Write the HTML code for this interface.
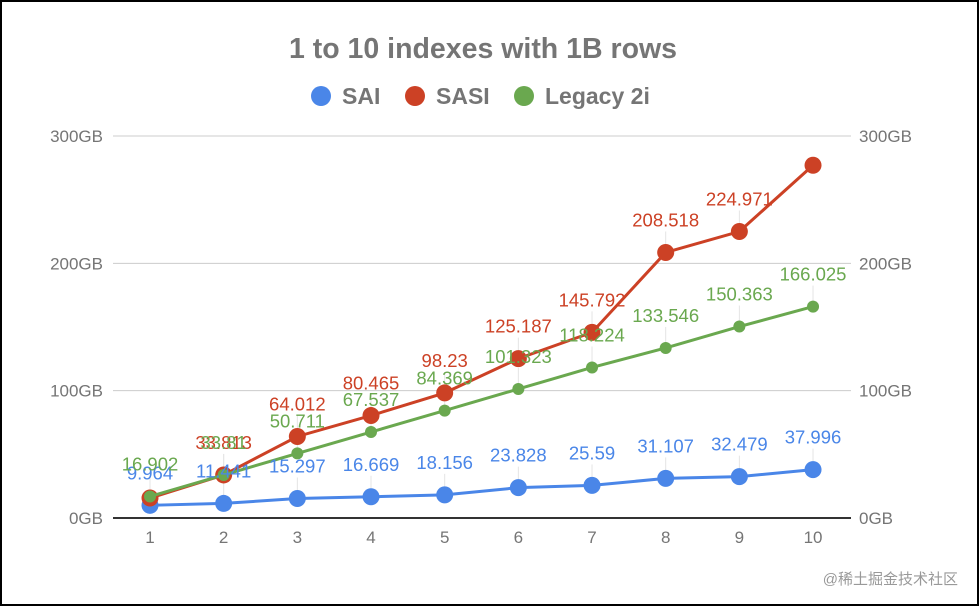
<!DOCTYPE html>
<html><head><meta charset="utf-8"><style>
html,body{margin:0;padding:0;background:#fff}
body{width:979px;height:606px;overflow:hidden;position:relative;font-family:"Liberation Sans",sans-serif}
#frame{position:absolute;left:0;top:0;width:975px;height:602px;border:2px solid #000}
</style></head><body>
<div id="frame"></div>
<svg id="chart" width="979" height="606" style="position:absolute;left:0;top:0">
<text x="483" y="58" text-anchor="middle" font-size="28.5" font-weight="bold" fill="#757575">1 to 10 indexes with 1B rows</text>
<g>
<g><circle cx="321" cy="96" r="10" fill="#4a86e8"/><text x="342" y="104" font-size="23" font-weight="bold" fill="#757575">SAI</text></g>
<g><circle cx="415" cy="96" r="10" fill="#cc4125"/><text x="436" y="104" font-size="23" font-weight="bold" fill="#757575">SASI</text></g>
<g><circle cx="524" cy="96" r="10" fill="#6aa84f"/><text x="545" y="104" font-size="23" font-weight="bold" fill="#757575">Legacy 2i</text></g>
</g>
<g id="grid"></g><g id="leaders"></g><g id="series"></g><g id="labels"></g>
<text x="958" y="584" text-anchor="end" font-size="15" fill="#999" font-family="'Liberation Sans','Noto Sans CJK SC',sans-serif">@稀土掘金技术社区</text>
</svg>
<script>
const categories=[1,2,3,4,5,6,7,8,9,10];
const sai=[9.964,11.441,15.297,16.669,18.156,23.828,25.59,31.107,32.479,37.996];
const sasi=[15.7,33.813,64.012,80.465,98.23,125.187,145.792,208.518,224.971,277];
const legacy=[16.902,33.81,50.711,67.537,84.369,101.323,118.224,133.546,150.363,166.025];
const sasiLabels=["","33.813","64.012","80.465","98.23","125.187","145.792","208.518","224.971",""];
const saiLabels=["9.964","11.441","15.297","16.669","18.156","23.828","25.59","31.107","32.479","37.996"];
const legacyLabels=["16.902","33.81","50.711","67.537","84.369","101.323","118.224","133.546","150.363","166.025"];
const yTicks=[0,100,200,300];
const yTickLabels=["0GB","100GB","200GB","300GB"];
const NS="http://www.w3.org/2000/svg";
const x0=150,dx=73.67,yBase=518,pxPer=(518-136)/300;
const X=i=>x0+i*dx, Y=v=>yBase-v*pxPer;
function mk(tag,attrs,parent){const e=document.createElementNS(NS,tag);for(const k in attrs)e.setAttribute(k,attrs[k]);parent.appendChild(e);return e;}
const grid=document.getElementById('grid'),ser=document.getElementById('series'),lab=document.getElementById('labels'),lead=document.getElementById('leaders');
yTicks.forEach((t,i)=>{
 const l=mk('line',{x1:113,x2:851,y1:Y(t),y2:Y(t),stroke:t===0?'#333':'#ccc','stroke-width':t===0?2:1},grid);
 
 
 const a=mk('text',{x:103,y:Y(t)+6,'text-anchor':'end','font-size':17,fill:'#757575'},grid);a.textContent=yTickLabels[i];
 
 
 const b=mk('text',{x:859,y:Y(t)+6,'font-size':17,fill:'#757575'},grid);b.textContent=yTickLabels[i];
 
 
});
categories.forEach((c,i)=>{
 const t=mk('text',{x:X(i),y:543,'text-anchor':'middle','font-size':17,fill:'#757575'},grid);t.textContent=c;
 
 
});
function series(vals,labels,color,r,name){
 const g=mk('g',{},ser);
 
 
 mk('polyline',{points:vals.map((v,i)=>X(i)+','+Y(v)).join(' '),fill:'none',stroke:color,'stroke-width':3},g);
 vals.forEach((v,i)=>{
  const c=mk('circle',{cx:X(i),cy:Y(v),r:r,fill:color},g);
  
  
  if(labels[i]){
   mk('line',{x1:X(i),x2:X(i),y1:Y(v)-21,y2:Y(v),stroke:'#e4e4e4','stroke-width':1},lead);
   const t=mk('text',{x:X(i),y:Y(v)-26,'text-anchor':'middle','font-size':18.5,fill:color},lab);t.textContent=labels[i];
   
   }
 });
}
series(sai,saiLabels,'#4a86e8',8.5,'sai');
series(sasi,sasiLabels,'#cc4125',8.5,'sasi');
series(legacy,legacyLabels,'#6aa84f',6,'legacy-2i');
</script>
</body></html>
